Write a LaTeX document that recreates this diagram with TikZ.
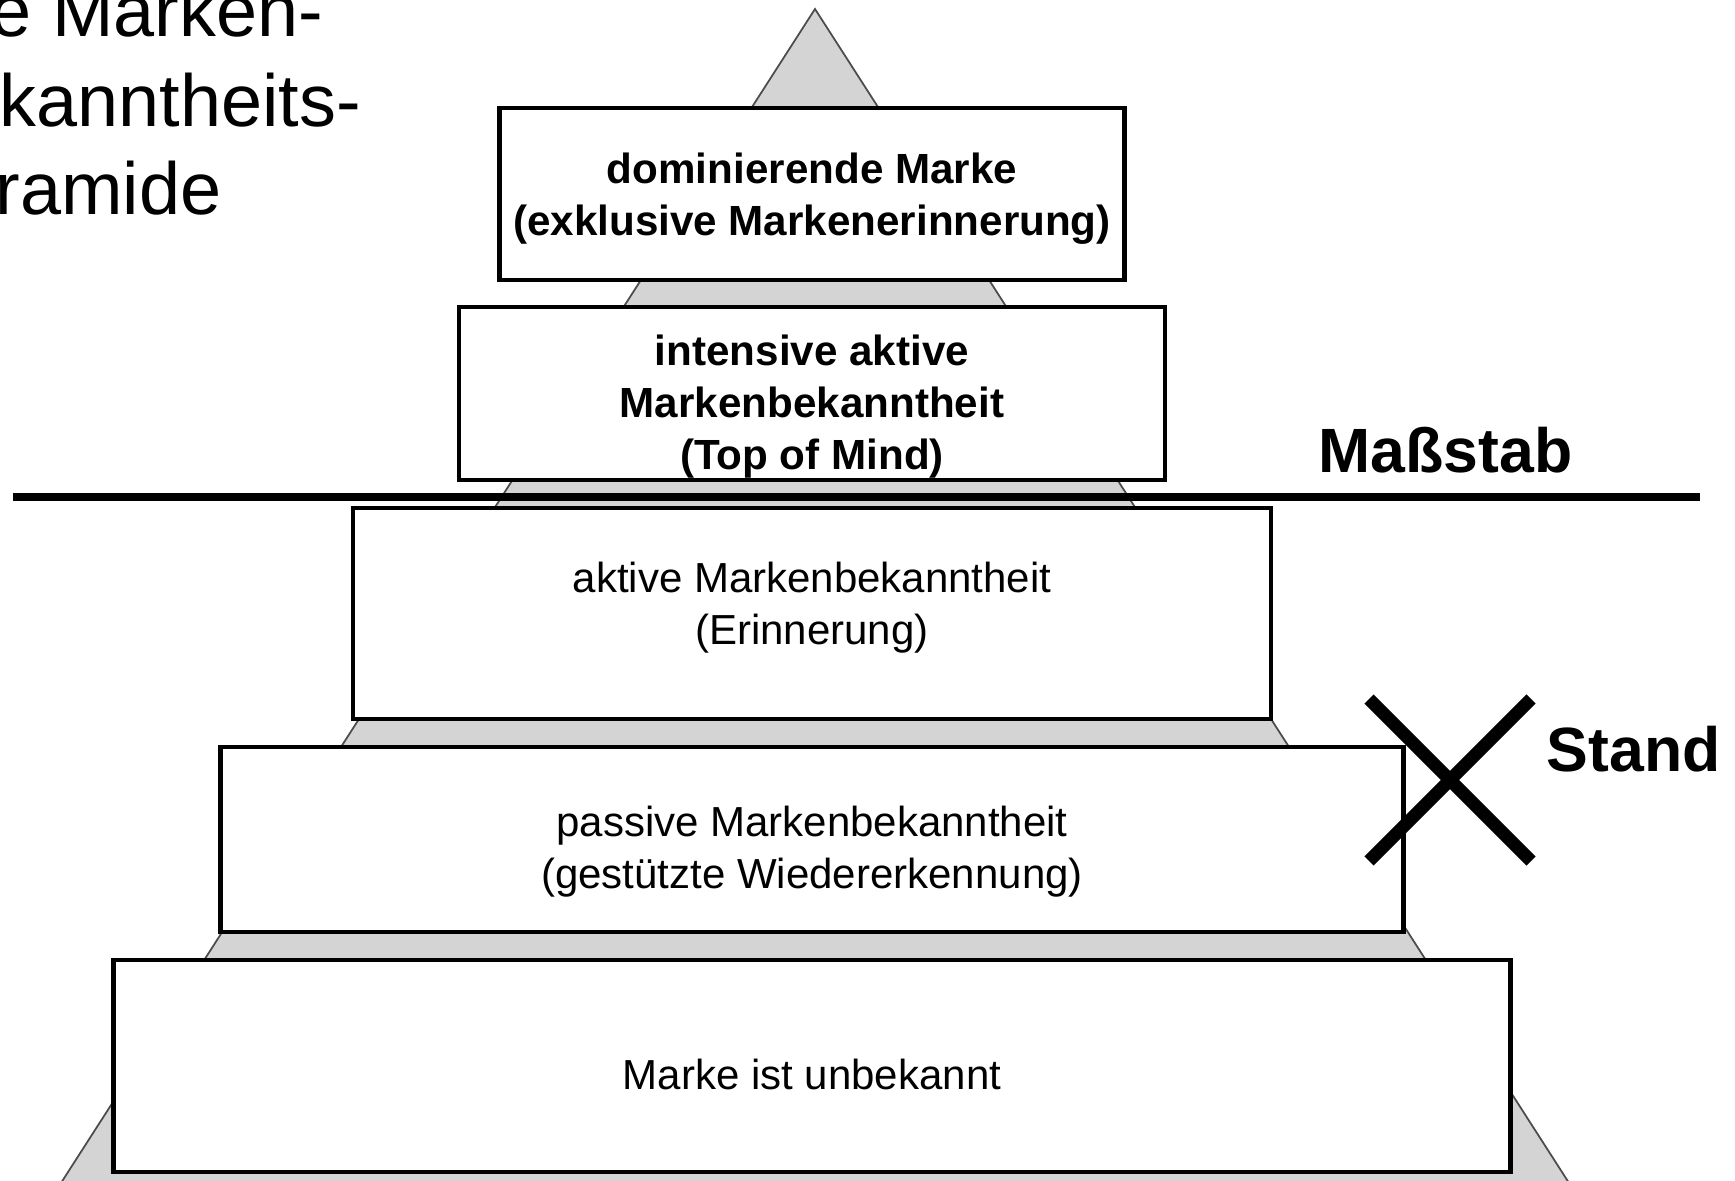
\documentclass[tikz,border=0pt]{standalone}
\usepackage{fontspec}
\setmainfont{Liberation Sans}
\usetikzlibrary{positioning}

\begin{document}
\begin{tikzpicture}[stufe/.style={draw, fill=white, line width=1.2pt, inner sep=0pt},
  stufetext/.style={align=center, inner sep=0pt, font=\fontsize{11.95}{14.8}\selectfont},
  spitze/.style={align=center, inner sep=0pt, font=\bfseries\fontsize{12}{14.7}\selectfont},
  marke/.style={font=\bfseries\fontsize{17.8}{20}\selectfont, anchor=base west, inner sep=0pt},
  titel/.style={font=\fontsize{21}{25}\selectfont, anchor=base west, inner sep=0pt}]
  \clip (0,0) rectangle (17.35,11.81);

  % Pyramide
  \draw[fill=black!17, draw=black!70, line width=.5pt] (8.15,11.72) -- (0.43,-0.3) -- (15.87,-0.3) -- cycle;

  \node[titel] (t1) at (-0.10,11.44) {e Marken-};
  \node[titel] (t2) at (-0.01,10.54) {kanntheits-};
  \node[titel] (t3) at (-0.05,9.66) {ramide};

  \node[stufe, minimum width=6.25cm, minimum height=1.72cm] (s1) at (8.12,9.87) {};
  \node[stufe, minimum width=7.06cm, minimum height=1.73cm] (s2) at (8.12,7.875) {};
  \node[stufe, minimum width=9.18cm, minimum height=2.11cm] (s3) at (8.12,5.675) {};
  \node[stufe, minimum width=11.83cm, minimum height=1.85cm] (s4) at (8.12,3.415) {};
  \node[stufe, minimum width=13.97cm, minimum height=2.12cm] (s5) at (8.12,1.15) {};

  \node[spitze] (s1t) at (8.12,9.82) {dominierende Marke\\(exklusive Markenerinnerung)};
  \node[spitze] (s2t) at (8.12,7.745) {intensive aktive\\Markenbekanntheit\\(Top of Mind)};
  \node[stufetext] (s3t) at (8.12,5.73) {aktive Markenbekanntheit\\(Erinnerung)};
  \node[stufetext] (s4t) at (8.12,3.295) {passive Markenbekanntheit\\(gestützte Wiedererkennung)};
  \node[stufetext] (s5t) at (8.12,1.07) {Marke ist unbekannt};

  % Massstab
  \coordinate (ml) at (0.13,6.84);
  \coordinate (mr) at (17.00,6.84);
  \draw[line width=2pt] (ml) -- (mr);
  \node[marke] (mass) at (13.18,7.08) {Maßstab};

  % Stand
  \draw[line width=3.7pt] (13.69,4.82) -- (15.31,3.20) (13.69,3.20) -- (15.31,4.82);
  \node[marke] (stand) at (15.46,4.09) {Stand};
\end{tikzpicture}
\end{document}
